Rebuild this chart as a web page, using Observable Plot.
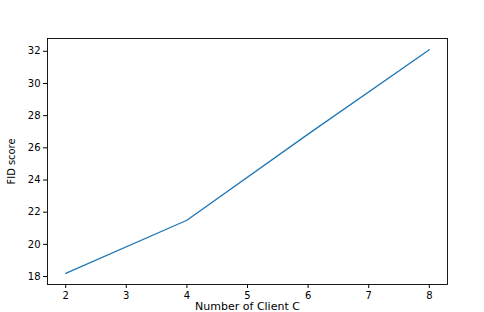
<!DOCTYPE html>
<html>
<head>
<meta charset="utf-8">
<script src="https://cdn.jsdelivr.net/npm/d3@7"></script>
<script src="https://cdn.jsdelivr.net/npm/@observablehq/plot@0.6"></script>
<style>
  html, body { margin: 0; padding: 0; background: #fff; }
  #chart svg { display: block; }
  #chart svg g[aria-label="x-axis label"] text { font-size: 11px; }
  #chart svg g[aria-label="y-axis label"] text { font-size: 11px; font-family: "DejaVu Sans Condensed", "DejaVu Sans"; }
</style>
</head>
<body>
<div id="chart"></div>
<script>
const clients = [2, 4, 6, 8];
const fidScores = [18.2, 21.5, 26.85, 32.1];
const xTicks = [2, 3, 4, 5, 6, 7, 8];
const yTicks = [18, 20, 22, 24, 26, 28, 30, 32];

const data = clients.map((c, i) => ({c, fid: fidScores[i]}));

const chart = Plot.plot({
  width: 484,
  height: 312,
  marginLeft: 47,
  marginRight: 37,
  marginTop: 38,
  marginBottom: 28,
  style: {fontFamily: "DejaVu Sans", fontSize: "10px", color: "#000", background: "#fff"},
  x: {domain: [1.7, 8.3]},
  y: {domain: [17.505, 32.795]},
  marks: [
    Plot.frame({stroke: "#000", strokeWidth: 0.9}),
    Plot.axisX({ticks: xTicks, tickSize: 4, tickPadding: 3, tickFormat: d => String(d),
      label: "Number of Client C", labelAnchor: "center", labelArrow: "none", labelOffset: 25}),
    Plot.axisY({ticks: yTicks, tickSize: 4, tickPadding: 3, tickFormat: d => String(d),
      label: "FID score", labelAnchor: "center", labelArrow: "none", labelOffset: 40}),
    Plot.line(data, {x: "c", y: "fid", stroke: "#1f77b4", strokeWidth: 1.3})
  ]
});
document.getElementById("chart").appendChild(chart);
</script>
</body>
</html>
